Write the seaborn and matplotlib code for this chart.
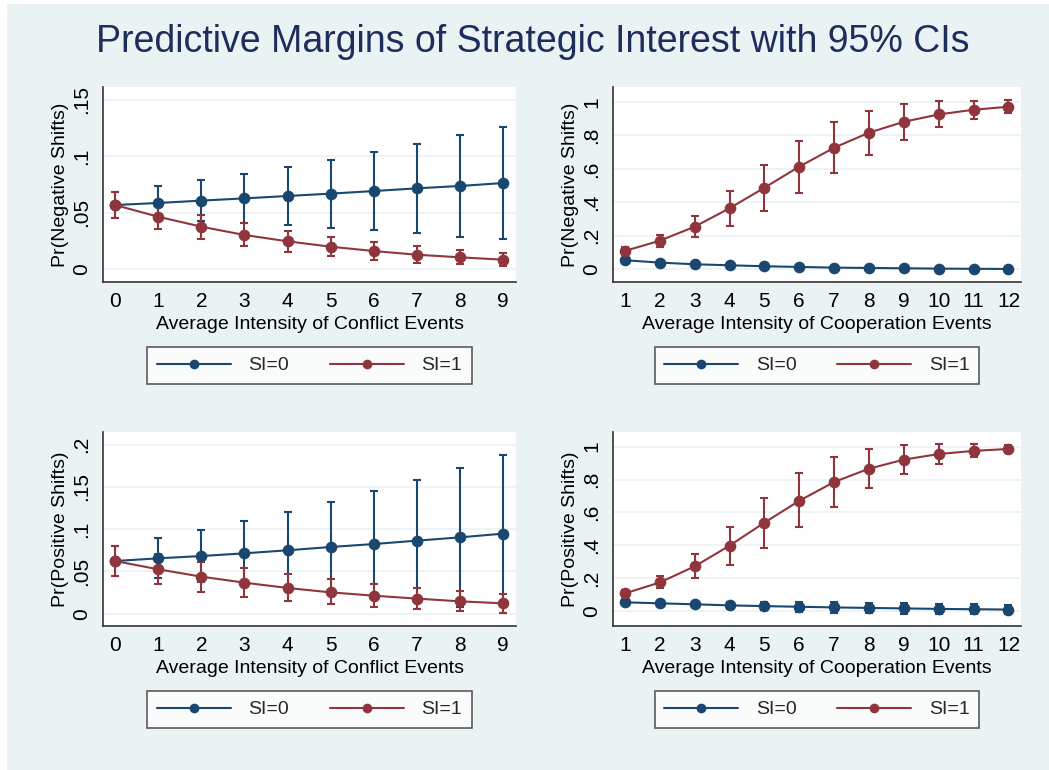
import numpy as np
import pandas as pd
import matplotlib
matplotlib.use("Agg")
import matplotlib.pyplot as plt
from matplotlib.lines import Line2D
from matplotlib.patches import Rectangle
import seaborn as sns

# ---- data -------------------------------------------------------------
conflict_x = [0, 1, 2, 3, 4, 5, 6, 7, 8, 9]
coop_x = [1, 2, 3, 4, 5, 6, 7, 8, 9, 10, 11, 12]

# Pr(Negative Shifts) by conflict intensity
neg_conf_si0 = [0.0568, 0.0586, 0.0607, 0.0627, 0.0648, 0.0669, 0.0692, 0.0716, 0.0737, 0.0763]
neg_conf_si0_lo = [0.0450, 0.0438, 0.0424, 0.0411, 0.0391, 0.0368, 0.0344, 0.0322, 0.0288, 0.0263]
neg_conf_si0_hi = [0.0686, 0.0734, 0.0790, 0.0843, 0.0905, 0.0970, 0.1040, 0.1110, 0.1186, 0.1263]
neg_conf_si1 = [0.0568, 0.0464, 0.0376, 0.0302, 0.0246, 0.0198, 0.0160, 0.0127, 0.0104, 0.0083]
neg_conf_si1_lo = [0.0450, 0.0352, 0.0269, 0.0207, 0.0151, 0.0112, 0.0080, 0.0056, 0.0041, 0.0030]
neg_conf_si1_hi = [0.0686, 0.0575, 0.0479, 0.0405, 0.0340, 0.0287, 0.0240, 0.0201, 0.0166, 0.0139]

# Pr(Negative Shifts) by cooperation intensity
neg_coop_si0 = [0.054, 0.040, 0.030, 0.024, 0.018, 0.014, 0.010, 0.008, 0.006, 0.004, 0.003, 0.002]
neg_coop_si0_lo = [0.046, 0.033, 0.024, 0.018, 0.013, 0.009, 0.006, 0.004, 0.003, 0.001, 0.001, 0.000]
neg_coop_si0_hi = [0.062, 0.047, 0.036, 0.030, 0.023, 0.019, 0.014, 0.012, 0.009, 0.007, 0.005, 0.004]
neg_coop_si1 = [0.110, 0.171, 0.255, 0.365, 0.488, 0.614, 0.727, 0.817, 0.882, 0.926, 0.954, 0.972]
neg_coop_si1_lo = [0.087, 0.133, 0.191, 0.261, 0.351, 0.458, 0.574, 0.683, 0.775, 0.849, 0.900, 0.934]
neg_coop_si1_hi = [0.133, 0.207, 0.321, 0.468, 0.625, 0.769, 0.878, 0.948, 0.986, 1.004, 1.008, 1.010]

# Pr(Positive Shifts) by conflict intensity
pos_conf_si0 = [0.0623, 0.0655, 0.0682, 0.0714, 0.0750, 0.0789, 0.0824, 0.0864, 0.0903, 0.0947]
pos_conf_si0_lo = [0.0441, 0.0418, 0.0374, 0.0335, 0.0297, 0.0257, 0.0200, 0.0146, 0.0078, 0.0012]
pos_conf_si0_hi = [0.0805, 0.0892, 0.0990, 0.1093, 0.1203, 0.1321, 0.1448, 0.1582, 0.1728, 0.1882]
pos_conf_si1 = [0.0623, 0.0525, 0.0438, 0.0367, 0.0304, 0.0252, 0.0213, 0.0178, 0.0146, 0.0122]
pos_conf_si1_lo = [0.0441, 0.0347, 0.0260, 0.0197, 0.0146, 0.0110, 0.0079, 0.0051, 0.0032, 0.0012]
pos_conf_si1_hi = [0.0805, 0.0703, 0.0615, 0.0540, 0.0469, 0.0406, 0.0355, 0.0308, 0.0268, 0.0233]

# Pr(Positive Shifts) by cooperation intensity
pos_coop_si0 = [0.053, 0.047, 0.041, 0.0345, 0.030, 0.026, 0.022, 0.019, 0.016, 0.013, 0.011, 0.009]
pos_coop_si0_lo = [0.041, 0.033, 0.024, 0.0135, 0.004, -0.004, -0.009, -0.013, -0.016, -0.019, -0.020, -0.021]
pos_coop_si0_hi = [0.065, 0.061, 0.058, 0.0555, 0.056, 0.056, 0.053, 0.051, 0.048, 0.045, 0.042, 0.039]
pos_coop_si1 = [0.1075, 0.174, 0.272, 0.398, 0.538, 0.671, 0.785, 0.866, 0.921, 0.955, 0.974, 0.986]
pos_coop_si1_lo = [0.085, 0.138, 0.201, 0.282, 0.385, 0.509, 0.635, 0.748, 0.836, 0.897, 0.935, 0.963]
pos_coop_si1_hi = [0.130, 0.211, 0.345, 0.513, 0.690, 0.840, 0.935, 0.986, 1.008, 1.014, 1.014, 1.008]

groups = ["SI=0", "SI=1"]
title = "Predictive Margins of Strategic Interest with 95% CIs"
conf_label = "Average Intensity of Conflict Events"
coop_label = "Average Intensity of Cooperation Events"
neg_label = "Pr(Negative Shifts)"
pos_label = "Pr(Positive Shifts)"
small_ticks = [0, 0.05, 0.1, 0.15]
small_tick_labels = ["0", ".05", ".1", ".15"]
mid_ticks = [0, 0.05, 0.1, 0.15, 0.2]
mid_tick_labels = ["0", ".05", ".1", ".15", ".2"]
prob_ticks = [0, 0.2, 0.4, 0.6, 0.8, 1.0]
prob_tick_labels = ["0", ".2", ".4", ".6", ".8", "1"]

# ---- style ------------------------------------------------------------
NAVY = "#1A476F"
MAROON = "#90353B"
BG = "#EAF2F3"
TITLE_COLOR = "#1E2D5B"
AXIS_COLOR = "#333333"
palette = {"SI=0": NAVY, "SI=1": MAROON}

sns.set_theme(style="white")
plt.rcParams["font.family"] = ["Liberation Sans", "DejaVu Sans"]

fig = plt.figure(figsize=(10.49, 7.70), dpi=100)
fig.patch.set_facecolor("white")
fig.add_artist(Rectangle((7 / 1049, 0), 1 - 7 / 1049, 1 - 4 / 770,
                         transform=fig.transFigure, facecolor=BG,
                         edgecolor="none", zorder=0))

W, H = 1049, 770


def px_axes(left, top, right, bottom):
    return fig.add_axes([left / W, 1 - bottom / H, (right - left) / W, (bottom - top) / H])


panels = [
    dict(box=(103, 87, 516, 282), x=conflict_x,
         series=[(neg_conf_si0, neg_conf_si0_lo, neg_conf_si0_hi),
                 (neg_conf_si1, neg_conf_si1_lo, neg_conf_si1_hi)],
         xlim=(-0.28, 9.30), ylim=(-0.0115, 0.1615),
         yticks=small_ticks, yticklabels=small_tick_labels,
         xlabel=conf_label, ylabel=neg_label, legend_y=365.5),
    dict(box=(613, 87, 1021, 282), x=coop_x,
         series=[(neg_coop_si0, neg_coop_si0_lo, neg_coop_si0_hi),
                 (neg_coop_si1, neg_coop_si1_lo, neg_coop_si1_hi)],
         xlim=(0.655, 12.36), ylim=(-0.076, 1.09),
         yticks=prob_ticks, yticklabels=prob_tick_labels,
         xlabel=coop_label, ylabel=neg_label, legend_y=365.5),
    dict(box=(103, 432, 516, 626), x=conflict_x,
         series=[(pos_conf_si0, pos_conf_si0_lo, pos_conf_si0_hi),
                 (pos_conf_si1, pos_conf_si1_lo, pos_conf_si1_hi)],
         xlim=(-0.28, 9.30), ylim=(-0.0146, 0.215),
         yticks=mid_ticks, yticklabels=mid_tick_labels,
         xlabel=conf_label, ylabel=pos_label, legend_y=709.5),
    dict(box=(613, 432, 1021, 626), x=coop_x,
         series=[(pos_coop_si0, pos_coop_si0_lo, pos_coop_si0_hi),
                 (pos_coop_si1, pos_coop_si1_lo, pos_coop_si1_hi)],
         xlim=(0.655, 12.36), ylim=(-0.091, 1.089),
         yticks=prob_ticks, yticklabels=prob_tick_labels,
         xlabel=coop_label, ylabel=pos_label, legend_y=709.5),
]

for p in panels:
    ax = px_axes(*p["box"])
    ax.set_facecolor("white")
    x = np.asarray(p["x"])

    frames = []
    for g, (m, lo, hi) in zip(groups, p["series"]):
        frames.append(pd.DataFrame({"x": x, "margin": m, "lo": lo, "hi": hi, "group": g}))
    df = pd.concat(frames, ignore_index=True)

    # confidence interval caps first, then the connected margins
    for g in groups:
        d = df[df["group"] == g]
        ax.errorbar(d["x"], d["margin"],
                    yerr=[d["margin"] - d["lo"], d["hi"] - d["margin"]],
                    fmt="none", ecolor=palette[g], elinewidth=1.5,
                    capsize=3.0, capthick=1.5, zorder=2)
    sns.lineplot(data=df, x="x", y="margin", hue="group", hue_order=groups,
                 palette=palette, marker="o", markersize=8.4,
                 markeredgewidth=0, linewidth=1.5, errorbar=None,
                 legend=False, ax=ax, zorder=3)

    ax.set_xlim(*p["xlim"])
    ax.set_ylim(*p["ylim"])
    ax.set_xticks(x)
    ax.set_xticklabels([str(v) for v in x])
    ax.set_yticks(p["yticks"])
    ax.set_yticklabels(p["yticklabels"], rotation=90, va="center")
    for t in p["yticks"]:
        ax.axhline(t, color=BG, linewidth=1.2, zorder=1)

    for side in ("top", "right"):
        ax.spines[side].set_visible(False)
    for side in ("left", "bottom"):
        ax.spines[side].set_color(AXIS_COLOR)
        ax.spines[side].set_linewidth(1.2)
    ax.tick_params(axis="both", which="major", direction="out", length=5.5,
                   width=1.1, color=AXIS_COLOR, labelsize=15, labelcolor="black")
    ax.tick_params(axis="x", pad=2)
    ax.tick_params(axis="y", pad=3)
    ax.set_xlabel(p["xlabel"], fontsize=14, color="black", labelpad=3)
    ax.set_ylabel(p["ylabel"], fontsize=14, color="black", labelpad=2)

    handles = [Line2D([0], [0], color=palette[g], linewidth=1.5, marker="o",
                      markersize=7, markeredgewidth=0) for g in groups]
    cx = (p["box"][0] + p["box"][2]) / 2 / W
    cy = 1 - p["legend_y"] / H
    leg = ax.legend(handles, groups, loc="center", bbox_to_anchor=(cx, cy),
                    bbox_transform=fig.transFigure, ncol=2, fontsize=14,
                    frameon=True, fancybox=False, handlelength=3.8,
                    handletextpad=0.9, columnspacing=2.1, borderpad=0.5)
    leg.get_frame().set_edgecolor(AXIS_COLOR)
    leg.get_frame().set_linewidth(1.2)
    leg.get_frame().set_facecolor("white")

fig.text(533 / W, 1 - 42 / H, title, ha="center", va="center",
         fontsize=27, color=TITLE_COLOR)

fig.savefig("out.png", dpi=100, facecolor=fig.get_facecolor())
